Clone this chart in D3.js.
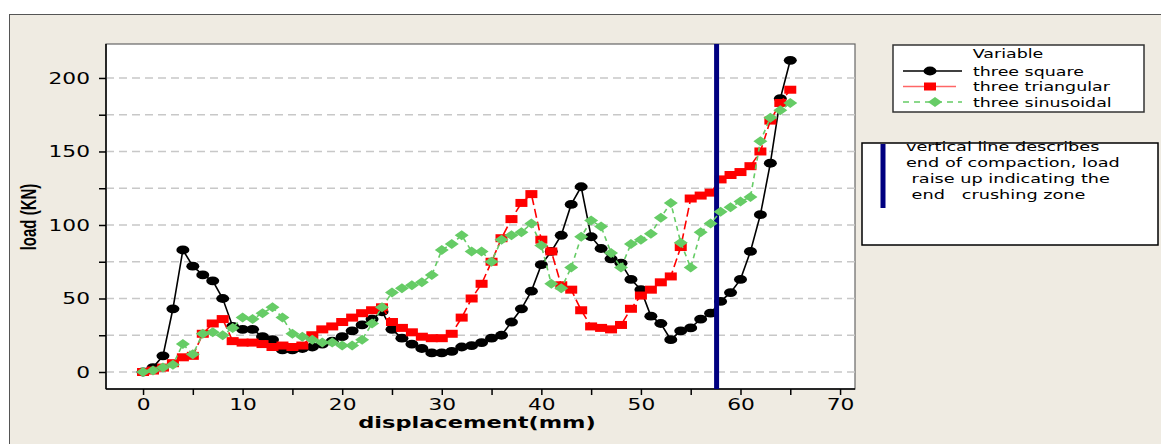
<!DOCTYPE html>
<html>
<head>
<meta charset="utf-8">
<script src="https://cdn.jsdelivr.net/npm/d3@7"></script>
<style>
  body { margin: 0; background: #fff; }
  svg { display: block; }
  text { white-space: pre; }
</style>
</head>
<body>
<div id="chart"></div>
<script>
const width = 1161;
const height = 444;

// displacement (mm) of each reading
const displacement = [0,1,2,3,4,5,6,7,8,9,10,11,12,13,14,15,16,17,18,19,20,21,22,23,24,25,26,27,28,29,
  30,31,32,33,34,35,36,37,38,39,40,41,42,43,44,45,46,47,48,49,50,51,52,53,54,55,56,57,58,59,60,61,62,63,64,65];

// load (KN)
const threeSquare = [0,3,11,43,83,72,66,62,50,31,29,29,24,22,15,15,16,17,19,21,24,28,32,36,41,29,23,19,16,13,
  13,14,17,18,20,23,25,34,43,55,73,82,93,114,126,92,84,77,74,63,56,38,33,22,28,30,36,40,48,54,63,82,107,142,186,212];
const threeTriangular = [0,1,3,6,10,11,26,33,36,21,20,20,19,17,18,17,18,25,29,31,34,37,40,42,44,34,30,27,24,23,
  23,26,37,50,60,75,91,104,115,121,90,82,59,56,42,31,30,29,32,43,52,56,61,65,85,118,120,122,131,134,136,140,150,171,183,192];
const threeSinusoidal = [0,1,3,5,19,12,26,27,25,30,37,36,40,44,37,26,24,22,20,20,18,18,22,33,44,54,57,59,61,66,
  83,87,93,82,82,75,90,93,95,101,86,60,57,71,92,103,99,81,71,87,90,94,105,115,88,71,95,101,109,112,116,119,157,173,178,183];

const xTicks = [0,5,10,15,20,25,30,35,40,45,50,55,60,65,70];
const yTicks = [0,25,50,75,100,125,150,175,200];
const compactionEnd = 57.6;

const legendTitle = 'Variable';
const legendLabels = ['three square', 'three triangular', 'three sinusoidal'];
const noteLines = ['vertical line describes', 'end of compaction, load', ' raise up indicating the', ' end   crushing zone'];

const colorSquare = '#000000';
const colorTriangular = '#ff0000';
const colorSinusoidal = '#66cc66';
const colorBlue = '#000080';
const tickFont = 'DejaVu Sans, Verdana, sans-serif';

const svg = d3.select('#chart')
    .append('svg')
    .attr('width', width)
    .attr('height', height);

// beige frame
svg.append('rect')
    .attr('x', 9.5).attr('y', 14.5)
    .attr('width', width + 10).attr('height', height + 10)
    .attr('fill', '#efebe2')
    .attr('stroke', '#555')
    .attr('stroke-width', 1);

const plot = { left: 106, top: 44, right: 855, bottom: 389 };

const x = d3.scaleLinear().domain([-3.72, 71.5]).range([plot.left, plot.right]);
const y = d3.scaleLinear().domain([-11.56, 223.1]).range([plot.bottom, plot.top]);

svg.append('rect')
    .attr('x', plot.left).attr('y', plot.top)
    .attr('width', plot.right - plot.left).attr('height', plot.bottom - plot.top)
    .attr('fill', '#fff')
    .attr('stroke', '#666')
    .attr('stroke-width', 1.2);

// dashed grid
svg.append('g')
    .selectAll('line')
    .data(yTicks)
    .enter().append('line')
    .attr('x1', plot.left).attr('x2', plot.right)
    .attr('y1', d => y(d)).attr('y2', d => y(d))
    .attr('stroke', '#c8c8c8')
    .attr('stroke-width', 1.5)
    .attr('stroke-dasharray', '8,5');

// axes
const yAxis = svg.append('g')
    .attr('transform', 'translate(' + plot.left + ',0)')
    .call(d3.axisLeft(y).tickValues(yTicks).tickSize(7).tickSizeOuter(0)
        .tickFormat(d => d % 50 === 0 ? d : ''));
yAxis.select('.domain').attr('d', 'M0,' + plot.top + 'V' + plot.bottom).attr('stroke', '#000').attr('stroke-width', 1.5);
yAxis.selectAll('.tick line').attr('stroke', '#000').attr('stroke-width', 1.5);
yAxis.selectAll('.tick text')
    .attr('x', 0).attr('dy', 0)
    .attr('transform', 'translate(-16,5.5) scale(1.45,1)')
    .style('font-family', tickFont)
    .style('font-size', '15px')
    .attr('fill', '#000');

const xAxis = svg.append('g')
    .attr('transform', 'translate(0,' + plot.bottom + ')')
    .call(d3.axisBottom(x).tickValues(xTicks).tickSize(6).tickSizeOuter(0)
        .tickFormat(d => d % 10 === 0 ? d : ''));
xAxis.select('.domain').attr('d', 'M' + plot.left + ',0H' + plot.right).attr('stroke', '#000').attr('stroke-width', 1.5);
xAxis.selectAll('.tick line').attr('stroke', '#000').attr('stroke-width', 1.5);
xAxis.selectAll('.tick text')
    .attr('y', 0).attr('dy', 0)
    .attr('transform', 'translate(0,21) scale(1.45,1)')
    .style('font-family', tickFont)
    .style('font-size', '15px')
    .attr('fill', '#000');

// axis titles
svg.append('text')
    .attr('transform', 'translate(477,428) scale(1.5,1)')
    .attr('text-anchor', 'middle')
    .style('font-family', tickFont)
    .style('font-weight', 'bold')
    .style('font-size', '15px')
    .text('displacement(mm)');

svg.append('text')
    .attr('transform', 'translate(36,217) scale(1.45,1) rotate(-90)')
    .attr('text-anchor', 'middle')
    .style('font-family', 'Liberation Sans, Arial, sans-serif')
    .style('font-weight', 'bold')
    .style('font-size', '15px')
    .text('load (KN)');

function drawMarker(g, shape, cx, cy, fill) {
    if (shape === 'circle') {
        g.append('ellipse')
            .attr('cx', cx).attr('cy', cy)
            .attr('rx', 6.5).attr('ry', 4.4)
            .attr('fill', fill);
    } else if (shape === 'square') {
        g.append('rect')
            .attr('x', cx - 6).attr('y', cy - 4)
            .attr('width', 12).attr('height', 8)
            .attr('fill', fill);
    } else {
        g.append('polygon')
            .attr('points', [[cx - 7, cy], [cx, cy - 5], [cx + 7, cy], [cx, cy + 5]].join(' '))
            .attr('fill', fill);
    }
}

function drawSeries(values, color, dash, shape) {
    const pts = displacement.map((d, i) => [x(d), y(values[i])]);
    svg.append('path')
        .datum(pts)
        .attr('d', d3.line())
        .attr('fill', 'none')
        .attr('stroke', color)
        .attr('stroke-width', 1.6)
        .attr('stroke-dasharray', dash);
    const g = svg.append('g');
    pts.forEach(p => drawMarker(g, shape, p[0], p[1], color));
}

drawSeries(threeSquare, colorSquare, null, 'circle');
drawSeries(threeTriangular, colorTriangular, '9,4', 'square');

// end of compaction
svg.append('line')
    .attr('x1', x(compactionEnd)).attr('x2', x(compactionEnd))
    .attr('y1', plot.top).attr('y2', plot.bottom)
    .attr('stroke', colorBlue)
    .attr('stroke-width', 5);

drawSeries(threeSinusoidal, colorSinusoidal, '5,4', 'diamond');

// legend
const legend = svg.append('g');
legend.append('rect')
    .attr('x', 893).attr('y', 45)
    .attr('width', 251).attr('height', 67)
    .attr('fill', '#fff')
    .attr('stroke', '#333')
    .attr('stroke-width', 1.5);

legend.append('text')
    .attr('transform', 'translate(1008,58) scale(1.34,1)')
    .attr('text-anchor', 'middle')
    .style('font-family', tickFont)
    .style('font-size', '13px')
    .text(legendTitle);

const legendStyle = [
    { color: colorSquare, dash: null, shape: 'circle', x2: 962, mx: 930 },
    { color: colorTriangular, dash: null, shape: 'square', x2: 956, mx: 930 },
    { color: colorSinusoidal, dash: '6,5', shape: 'diamond', x2: 962, mx: 935 }
];

legendLabels.forEach((label, i) => {
    const ly = 71 + i * 15.5;
    const s = legendStyle[i];
    legend.append('line')
        .attr('x1', 903).attr('x2', s.x2)
        .attr('y1', ly).attr('y2', ly)
        .attr('stroke', s.color)
        .attr('stroke-opacity', i === 1 ? 0.6 : 1)
        .attr('stroke-width', 1.5)
        .attr('stroke-dasharray', s.dash);
    drawMarker(legend, s.shape, s.mx, ly, s.color);
    legend.append('text')
        .attr('transform', 'translate(973,' + (ly + 4.5) + ') scale(1.34,1)')
        .style('font-family', tickFont)
        .style('font-size', '13px')
        .text(label);
});

// note box
const note = svg.append('g');
note.append('rect')
    .attr('x', 862).attr('y', 143)
    .attr('width', 296).attr('height', 102)
    .attr('fill', '#fff')
    .attr('stroke', '#000')
    .attr('stroke-width', 1.5);
note.append('line')
    .attr('x1', 883).attr('x2', 883)
    .attr('y1', 144).attr('y2', 208)
    .attr('stroke', colorBlue)
    .attr('stroke-width', 5);
noteLines.forEach((line, i) => {
    note.append('text')
        .attr('transform', 'translate(906,' + (151 + i * 16) + ') scale(1.36,1)')
        .style('font-family', tickFont)
        .style('font-size', '13px')
        .text(line);
});
</script>
</body>
</html>
